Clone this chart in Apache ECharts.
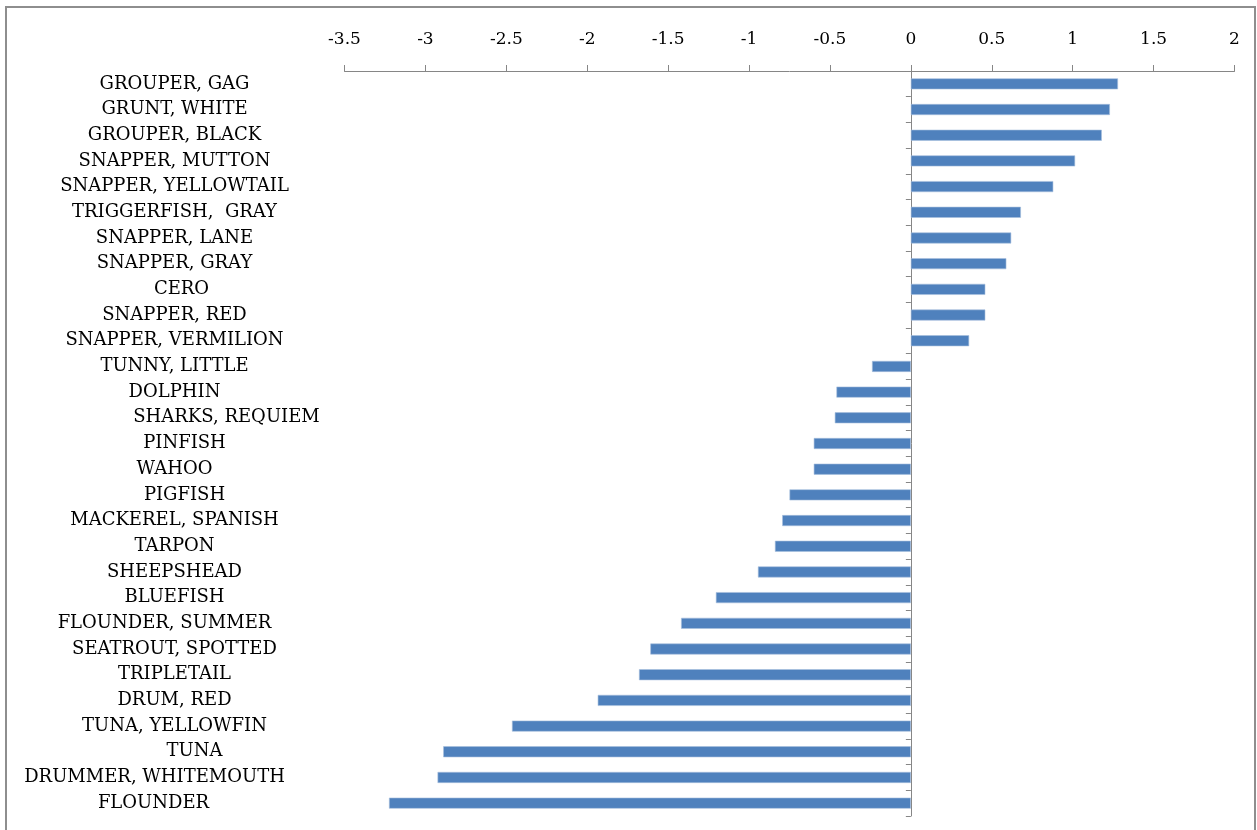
<!DOCTYPE html>
<html>
<head>
<meta charset="utf-8">
<style>
  html, body { margin: 0; padding: 0; background: #ffffff; }
  #chart { width: 1257px; height: 830px; }
</style>
<script src="https://cdn.jsdelivr.net/npm/echarts@6/dist/echarts.min.js"></script>
</head>
<body>
<div id="chart"></div>
<script>
// Species, listed top to bottom
const species = [
  'GROUPER, GAG', 'GRUNT, WHITE', 'GROUPER, BLACK', 'SNAPPER, MUTTON',
  'SNAPPER, YELLOWTAIL', 'TRIGGERFISH,  GRAY', 'SNAPPER, LANE', 'SNAPPER, GRAY',
  'CERO', 'SNAPPER, RED', 'SNAPPER, VERMILION', 'TUNNY, LITTLE', 'DOLPHIN',
  'SHARKS, REQUIEM', 'PINFISH', 'WAHOO', 'PIGFISH', 'MACKEREL, SPANISH',
  'TARPON', 'SHEEPSHEAD', 'BLUEFISH', 'FLOUNDER, SUMMER', 'SEATROUT, SPOTTED',
  'TRIPLETAIL', 'DRUM, RED', 'TUNA, YELLOWFIN', 'TUNA', 'DRUMMER, WHITEMOUTH',
  'FLOUNDER'
];

// Value per species, same order
const values = [
  1.28, 1.23, 1.18, 1.015,
  0.88, 0.68, 0.62, 0.59,
  0.46, 0.46, 0.36, -0.24, -0.46,
  -0.47, -0.60, -0.60, -0.75, -0.795,
  -0.84, -0.945, -1.205, -1.42, -1.61,
  -1.68, -1.935, -2.465, -2.89, -2.925,
  -3.225
];

// Horizontal axis tick values
const tickMin = -3.5;
const tickMax = 2;
const tickStep = 0.5;

// Horizontal nudges (px) for a few category labels
const labelNudge = {
  'SHARKS, REQUIEM': 52, 'TUNA': 20, 'DRUMMER, WHITEMOUTH': -20,
  'FLOUNDER': -21, 'PINFISH': 10, 'PIGFISH': 10, 'CERO': 7,
  'FLOUNDER, SUMMER': -10
};

const serif = 'DejaVu Serif';
const axisGray = '#868686';
const labelSize = 18;

const chart = echarts.init(document.getElementById('chart'), null, { renderer: 'canvas' });

const nudgeKeys = Object.keys(labelNudge);
const rich = {};
nudgeKeys.forEach((k, i) => {
  const d = labelNudge[k];
  rich['n' + i] = {
    fontFamily: serif, fontSize: labelSize, color: '#000',
    padding: d > 0 ? [0, 0, 0, 2 * d] : [0, -2 * d, 0, 0]
  };
});

chart.setOption({
  animation: false,
  backgroundColor: '#ffffff',
  graphic: [{
    type: 'rect',
    shape: { x: 6, y: 7, width: 1249, height: 900 },
    style: { fill: 'none', stroke: '#8e8e8e', lineWidth: 2 },
    silent: true
  }],
  grid: {
    left: 344.5, right: 22.5, top: 71, bottom: 14,
    containLabel: false, outerBoundsMode: 'none'
  },
  xAxis: {
    type: 'value',
    position: 'top',
    min: tickMin,
    max: tickMax,
    interval: tickStep,
    axisLine: { show: true, lineStyle: { color: axisGray, width: 1 } },
    axisTick: { show: true, length: 6, lineStyle: { color: axisGray } },
    splitLine: { show: false },
    axisLabel: {
      margin: 23,
      fontFamily: serif,
      fontSize: 17,
      color: '#000'
    }
  },
  yAxis: {
    type: 'category',
    inverse: true,
    data: species,
    axisLine: { show: true, onZero: true, lineStyle: { color: axisGray, width: 1 } },
    axisTick: { show: true, length: 5, lineStyle: { color: axisGray } },
    splitLine: { show: false },
    axisLabel: {
      interval: 0,
      align: 'center',
      margin: 170,
      fontFamily: serif,
      fontSize: labelSize,
      color: '#000',
      rich: rich,
      formatter: function (name) {
        const idx = nudgeKeys.indexOf(name);
        return idx >= 0 ? '{n' + idx + '|' + name + '}' : name;
      }
    }
  },
  series: [{
    type: 'bar',
    data: values,
    barWidth: 11,
    itemStyle: { color: '#4f81bd', borderColor: '#a7bfde', borderWidth: 0.6 },
    silent: true
  }]
});
</script>
</body>
</html>
